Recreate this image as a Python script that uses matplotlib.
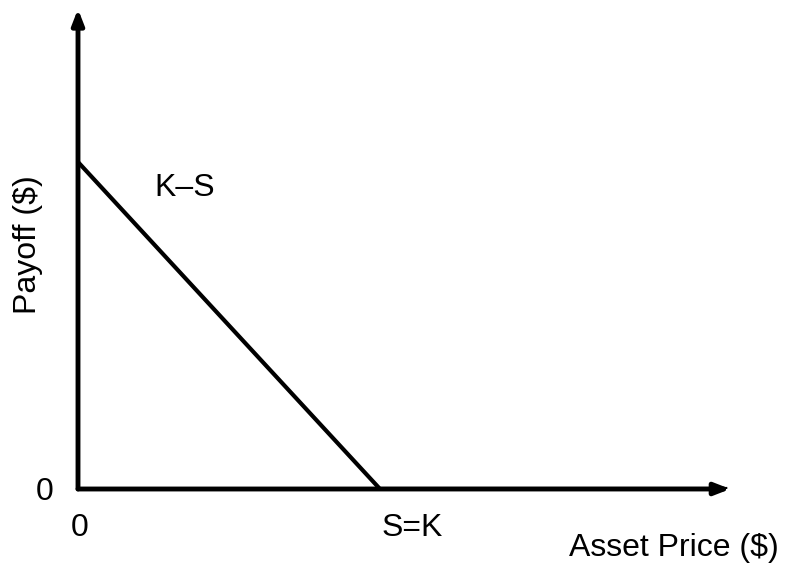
import matplotlib.pyplot as plt

plt.rcParams['font.family'] = ['Liberation Sans', 'DejaVu Sans']

# payoff of a put: K-S below the strike, 0 above
strike = 100
asset_price = [0, strike, 215]
payoff = [strike, 0, 0]

W, H = 787, 569
fig = plt.figure(figsize=(W / 100, H / 100), dpi=100)
ax = fig.add_axes([78 / W, 80 / H, (W - 78) / W, 480 / H])
ax.set_xlim(0, (W - 78) / 3.02)
ax.set_ylim(0, 480 / 3.27)
ax.axis('off')

ax.plot(asset_price, payoff, color='black', lw=3, solid_capstyle='butt')

# axes with arrows
ax.annotate('', xy=(216, 0), xytext=(0, 0),
            arrowprops=dict(arrowstyle='-|>,head_length=0.9,head_width=0.35',
                            color='black', lw=3.5, shrinkA=0, shrinkB=0))
ax.annotate('', xy=(0, 480 / 3.27), xytext=(0, 0),
            arrowprops=dict(arrowstyle='-|>,head_length=0.9,head_width=0.35',
                            color='black', lw=3.5, shrinkA=0, shrinkB=0))


def px(x, y):
    return x / W, 1 - y / H


fs = 23
fig.text(*px(185, 188), 'K–S', fontsize=fs, ha='center', va='center')
fig.text(*px(45, 492), '0', fontsize=fs, ha='center', va='center')
fig.text(*px(80, 528), '0', fontsize=fs, ha='center', va='center')
fig.text(*px(412, 528), 'S=K', fontsize=fs, ha='center', va='center')
fig.text(*px(674, 548), 'Asset Price ($)', fontsize=fs, ha='center', va='center')
fig.text(*px(28, 245), 'Payoff ($)', fontsize=fs, ha='center', va='center',
         rotation=90)

fig.savefig('out.png', dpi=100)
